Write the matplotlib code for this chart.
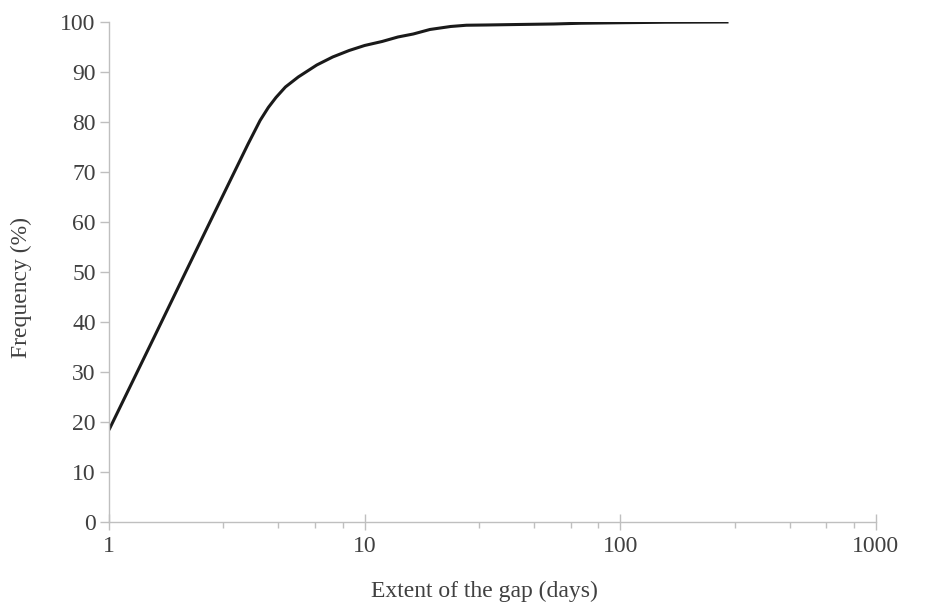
import numpy as np
import matplotlib
matplotlib.use("Agg")
import matplotlib.pyplot as plt
from matplotlib.ticker import FixedLocator, NullFormatter

# cumulative frequency of gap lengths
gap_days = [1, 1.5, 2, 2.5, 3, 3.5, 3.9, 4.2, 4.5, 4.9, 5.5, 6.5, 7.5, 8.7,
            10, 11.7, 13.5, 15.5, 18, 21.7, 25, 30, 40, 55, 70, 100, 150, 265]
frequency = [18.4, 36.9, 50.1, 60.3, 68.6, 75.6, 80.3, 82.9, 84.9, 87.0, 89.0,
             91.4, 93.0, 94.3, 95.3, 96.1, 97.0, 97.6, 98.5, 99.1, 99.35, 99.4,
             99.5, 99.6, 99.75, 99.85, 99.95, 100]

major_x = [1, 10, 100, 1000]
minor_x = [m * d for d in (1, 10, 100) for m in (2.8, 4.6, 6.4, 8.2)]
y_ticks = list(range(0, 101, 10))

plt.rcParams["font.family"] = ["Liberation Serif", "DejaVu Serif"]
text_col = "#404040"
axis_col = "#bfbfbf"
fs = 17

fig = plt.figure(figsize=(9.41, 6.09), dpi=100)
ax = fig.add_axes([0.1158, 0.1429, 0.8151, 0.821])

ax.plot(gap_days, frequency, color="#1a1a1a", linewidth=2.2,
        solid_joinstyle="round", solid_capstyle="butt")

ax.set_xscale("log")
ax.set_xlim(1, 1000)
ax.set_ylim(0, 100)

ax.xaxis.set_major_locator(FixedLocator(major_x))
ax.xaxis.set_minor_locator(FixedLocator(minor_x))
ax.xaxis.set_minor_formatter(NullFormatter())
ax.set_xticklabels([str(v) for v in major_x])
ax.set_yticks(y_ticks)
ax.set_yticklabels([str(v) for v in y_ticks])

for side in ("top", "right"):
    ax.spines[side].set_visible(False)
for side in ("left", "bottom"):
    ax.spines[side].set_color(axis_col)
    ax.spines[side].set_linewidth(1.0)

ax.tick_params(axis="x", which="major", direction="inout", length=12, width=1.0,
               color=axis_col, labelsize=fs, labelcolor=text_col, pad=4)
ax.tick_params(axis="x", which="minor", direction="out", length=4.3, width=1.0,
               color=axis_col)
ax.tick_params(axis="y", which="major", direction="out", length=6.5, width=1.0,
               color=axis_col, labelsize=fs, labelcolor=text_col, pad=3)

ax.set_xlabel("Extent of the gap (days)", fontsize=fs, color=text_col)
ax.set_ylabel("Frequency (%)", fontsize=fs, color=text_col)
ax.xaxis.set_label_coords(0.489, -0.118)
ax.yaxis.set_label_coords(-0.1, 0.468)

fig.savefig("out.png", dpi=100)
